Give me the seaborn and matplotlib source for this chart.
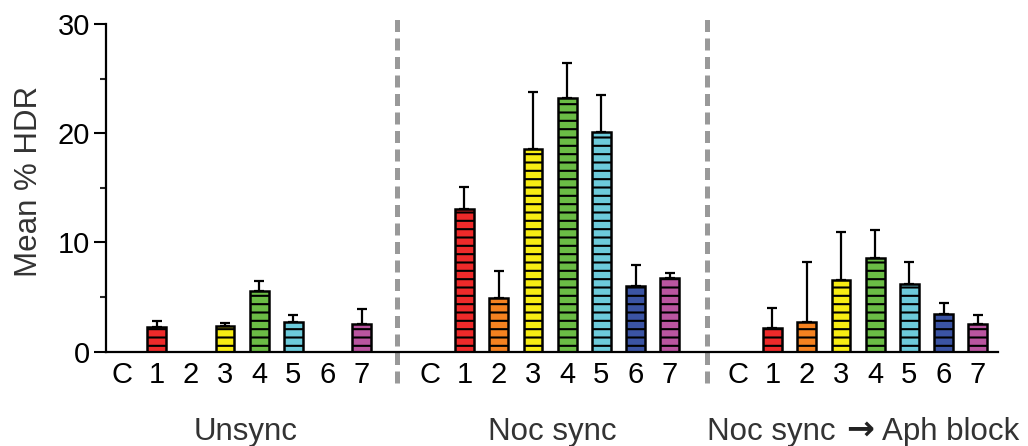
import matplotlib
matplotlib.use("Agg")
import matplotlib.pyplot as plt
import seaborn as sns
import pandas as pd
import numpy as np

# ---- data ----
groups = ["Unsync", "Noc sync", "Noc sync \u2192 Aph block"]
labels = ["C", "1", "2", "3", "4", "5", "6", "7"]
unsync_mean = [0, 2.23, 0, 2.35, 5.53, 2.75, 0, 2.51]
unsync_top = [0, 2.78, 0, 2.63, 6.45, 3.39, 0, 3.91]
noc_mean = [0, 13.04, 4.89, 18.59, 23.2, 20.12, 5.99, 6.75]
noc_top = [0, 15.11, 7.36, 23.75, 26.4, 23.48, 7.91, 7.18]
aph_mean = [0, 2.2, 2.72, 6.57, 8.55, 6.2, 3.42, 2.54]
aph_top = [0, 3.97, 8.21, 10.93, 11.14, 8.24, 4.43, 3.33]
yticks = [0, 10, 20, 30]
colors = {"C": "#FFFFFF", "1": "#EE2A2A", "2": "#F58220", "3": "#F7EC13",
          "4": "#6BBD45", "5": "#6DCBDB", "6": "#3B54A4", "7": "#BA55A0"}

means = [unsync_mean, noc_mean, aph_mean]
tops = [unsync_top, noc_top, aph_top]

rows = []
for gi, g in enumerate(groups):
    for li, lab in enumerate(labels):
        rows.append(dict(group=g, label=lab, pos=gi * 9 + li,
                         mean=means[gi][li], top=tops[gi][li]))
df = pd.DataFrame(rows)

sns.set_theme(style="ticks")
plt.rcParams["font.family"] = ["Liberation Sans", "DejaVu Sans"]
plt.rcParams["hatch.linewidth"] = 1.5
plt.rcParams["hatch.color"] = "black"

fig = plt.figure(figsize=(10.28, 4.46), dpi=100)
ax = fig.add_axes([106 / 1028, 1 - 351.7 / 446, (998 - 106) / 1028, (351.7 - 24) / 446])

sns.barplot(data=df, x="pos", y="mean", hue="label", palette=colors,
            native_scale=True, dodge=False, width=0.55, errorbar=None,
            saturation=1, edgecolor="black", linewidth=1.8, legend=False, ax=ax)
for p in ax.patches:
    p.set_hatch("--")
    p.set_edgecolor("black")
    p.set_zorder(2)

nz = df[df["mean"] > 0]
ax.errorbar(nz["pos"], nz["mean"],
            yerr=[np.zeros(len(nz)), (nz["top"] - nz["mean"]).values],
            fmt="none", ecolor="black", elinewidth=1.6, capsize=3.8,
            capthick=1.6, zorder=1)

ax.set_ylim(0, 30)
ax.set_xlim(-0.476, 25.59)
ax.set_yticks(yticks)
ax.set_yticks([5, 15, 25], minor=True)
ax.set_xticks(df["pos"])
ax.set_xticklabels(df["label"])
ax.tick_params(axis="y", which="major", length=8.5, width=1.5, labelsize=21,
               pad=3, color="black", labelcolor="black")
ax.tick_params(axis="y", which="minor", length=4.2, width=1.5)
ax.tick_params(axis="x", length=0, labelsize=21, pad=7, labelcolor="black")
for s in ["top", "right"]:
    ax.spines[s].set_visible(False)
for s in ["left", "bottom"]:
    ax.spines[s].set_linewidth(1.6)
    ax.spines[s].set_color("black")
ax.set_xlabel("")
ax.set_ylabel("Mean % HDR", fontsize=22.5, color="#333333")
ax.yaxis.set_label_coords(-0.07, 0.521)

for xd in [8.04, 17.08]:
    ax.plot([xd, xd], [-2.87, 30.45], color="#999999", lw=3.6,
            ls=(0, (2.4, 1.3)), clip_on=False, zorder=0)

ybase = -8.05
for gx, g in zip([3.6, 12.56], groups[:2]):
    ax.text(gx, ybase, g, ha="center", va="baseline", fontsize=22.5,
            color="#333333", clip_on=False)
# third label: "Noc sync → Aph block" with a heavier arrow glyph
left_part, right_part = groups[2].split(" \u2192 ")
ax.text(17.1, ybase, left_part, ha="left", va="baseline", fontsize=22.5,
        color="#333333", clip_on=False)
ax.text(21.56, ybase + 0.1, "\u2192", ha="center", va="baseline", fontsize=24,
        color="#222222", family=["DejaVu Sans"], fontweight="bold", clip_on=False)
ax.text(26.2, ybase, right_part, ha="right", va="baseline", fontsize=22.5,
        color="#333333", clip_on=False)

fig.savefig("out.png", dpi=100)
